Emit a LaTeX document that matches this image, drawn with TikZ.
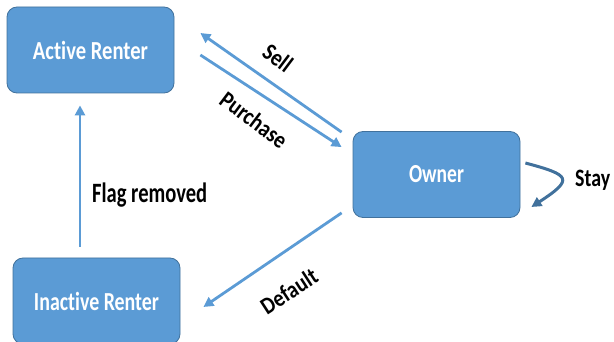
\documentclass[tikz,border=0pt]{standalone}
\usepackage{fontspec}
\usepackage{graphicx}
\setmainfont{Carlito}[Ligatures=NoCommon]
\usetikzlibrary{arrows.meta,calc}
\definecolor{boxfill}{HTML}{5B9BD5}
\definecolor{boxline}{HTML}{41719C}
% set a text at the current font size, squeezed horizontally to a given width
\newlength\fitlen
\newcommand\fitto[2]{\settowidth\fitlen{#2}\pgfmathsetmacro\fitratio{#1/\fitlen}\scalebox{\fitratio}[1]{#2}}
\tikzset{
  state/.style={draw=boxline, line width=0.8pt, fill=boxfill, rounded corners=10pt,
    minimum width=167pt, minimum height=86pt, text=white, inner sep=0pt,
    font=\bfseries\fontsize{26}{28}\selectfont},
  flow/.style={draw=boxfill, line width=2.8pt, -{Triangle[length=10pt,width=10pt]}},
  loopflow/.style={draw=boxline, line width=3pt, -{Triangle[length=10pt,width=10pt]}},
  lbl/.style={font=\bfseries\fontsize{28}{30}\selectfont, text=black, inner sep=0pt},
  tilted/.style={font=\bfseries\fontsize{24}{26}\selectfont, text=black, inner sep=0pt}
}
\begin{document}
\begin{tikzpicture}[x=1pt,y=-1pt]
  \useasboundingbox (0,0) rectangle (614,342);
  \begin{scope}
    \clip (0,0) rectangle (614,342);
    \node[state] (active) at (90.5,50) {\fitto{115pt}{Active Renter}};
    \node[state] (owner) at (436.5,174.5) {\fitto{55pt}{Owner}};
    \node[state] (inactive) at (96.5,301) {\fitto{125pt}{Inactive Renter}};
  \end{scope}

  % Sell / Purchase pair between owner and active renter
  \draw[flow] ($(owner.north west)+(-11,1)$) -- ($(active.east)+(26,-17)$);
  \draw[flow] ($(active.east)+(26,5)$) -- ($(owner.north west)+(-11,16)$);
  % Flag removed
  \draw[flow] ($(inactive.north)+(-16.5,-11)$) -- ($(active.south)+(-10.5,12)$);
  % Default
  \draw[flow] ($(owner.south west)+(-11,-5)$) -- ($(inactive.east)+(23,6)$);
  % Stay loop
  \draw[loopflow] ($(owner.east)+(5,-11.5)$)
    .. controls ($(owner.east)+(50,0.5)$) and ($(owner.east)+(54,4.5)$) .. ($(owner.east)+(11,32.5)$);

  \node[tilted, rotate=-37] (sell) at (278,58) {\scalebox{0.86}[1]{Sell}};
  \node[tilted, rotate=-37] (purchase) at (254,120) {\scalebox{0.86}[1]{Purchase}};
  \node[tilted, rotate=33] (default) at (289,291) {\scalebox{0.86}[1]{Default}};
  \node[lbl, anchor=base west] (flag) at (92,203) {\fitto{115pt}{Flag removed}};
  \node[lbl, anchor=base west, font=\bfseries\fontsize{25}{27}\selectfont] (stay) at (575,187) {\fitto{35pt}{Stay}};
\end{tikzpicture}
\end{document}
